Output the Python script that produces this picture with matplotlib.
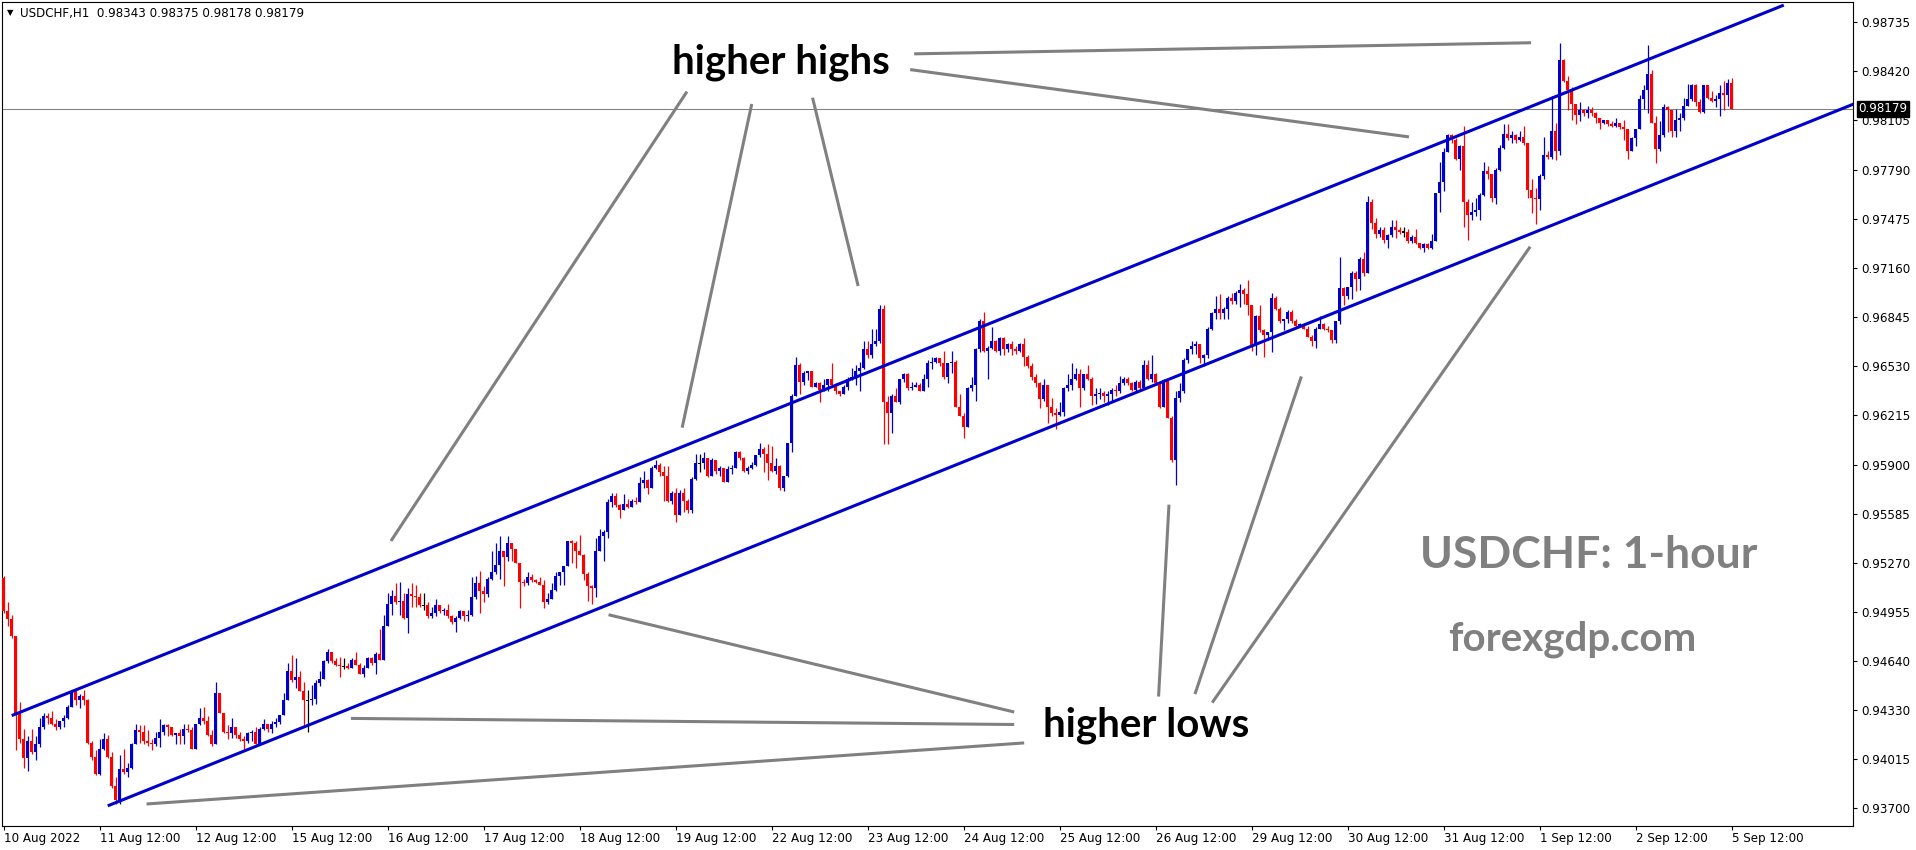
import numpy as np
import matplotlib
matplotlib.use('Agg')
import matplotlib.pyplot as plt

# USDCHF hourly candles, 10 Aug 2022 12:00 -> 5 Sep 2022 12:00
# prices are stored in pips above 0.9000 (e.g. 496 -> 0.9496)
symbol = 'USDCHF,H1'
first_open = 517.3

closes = [
    496, 491, 480, 431, 414, 402, 413, 406, 411, 422, 429, 428,
    424, 422, 426, 428, 435, 445, 439, 442, 439, 412, 403, 392,
    408, 414, 403, 384, 375, 395, 393, 396, 411, 420, 419, 413,
    412, 411, 415, 419, 423, 422, 417, 418, 416, 421, 420, 408,
    424, 428, 426, 417, 411, 444, 431, 419, 418, 422, 417, 414,
    413, 418, 419, 411, 421, 424, 421, 424, 425, 430, 439, 458,
    452, 454, 445, 439, 439, 440, 450, 453, 464, 470, 464, 462,
    461, 461, 460, 465, 462, 456, 460, 466, 463, 469, 465, 487,
    501, 506, 502, 503, 492, 507, 506, 505, 500, 500, 493, 495,
    500, 496, 497, 493, 489, 492, 496, 493, 494, 505, 514, 509,
    507, 517, 521, 526, 535, 531, 540, 536, 527, 515, 514, 518,
    516, 515, 513, 502, 504, 510, 519, 521, 525, 541, 540, 535,
    532, 520, 512, 511, 535, 544, 547, 566, 570, 564, 561, 565,
    563, 567, 566, 578, 580, 575, 588, 590, 585, 583, 567, 572,
    558, 572, 567, 561, 581, 591, 591, 594, 583, 593, 586, 588,
    579, 587, 588, 598, 594, 586, 588, 590, 596, 600, 597, 591,
    586, 589, 575, 583, 604, 634, 654, 643, 649, 650, 640, 642,
    638, 641, 645, 641, 637, 635, 640, 645, 646, 650, 652, 664,
    660, 667, 669, 690, 630, 623, 634, 630, 645, 648, 639, 640,
    641, 637, 645, 655, 656, 658, 655, 646, 655, 656, 627, 621,
    614, 639, 641, 664, 682, 663, 665, 669, 663, 671, 664, 667,
    664, 663, 667, 659, 653, 646, 642, 632, 641, 627, 623, 622,
    624, 639, 641, 645, 648, 639, 648, 645, 634, 635, 636, 634,
    635, 638, 637, 642, 645, 642, 638, 643, 639, 654, 645, 648,
    642, 627, 644, 620, 593, 633, 637, 657, 664, 666, 667, 658,
    660, 677, 687, 690, 687, 690, 697, 695, 700, 702, 699, 692,
    666, 685, 676, 673, 675, 697, 690, 682, 683, 688, 682, 679,
    680, 677, 672, 669, 677, 680, 677, 676, 670, 682, 703, 698,
    704, 713, 709, 722, 713, 758, 745, 738, 740, 734, 737, 742,
    740, 739, 739, 733, 736, 732, 729, 731, 729, 733, 764, 771,
    790, 801, 798, 786, 794, 758, 750, 752, 753, 763, 778, 776,
    761, 779, 793, 802, 799, 801, 798, 800, 796, 766, 761, 760,
    775, 788, 787, 804, 791, 849, 836, 830, 821, 814, 817, 815,
    817, 815, 812, 809, 811, 808, 807, 809, 806, 805, 791, 799,
    805, 824, 830, 840, 809, 792, 801, 819, 817, 804, 811, 812,
    820, 824, 833, 822, 816, 833, 825, 823, 824, 828, 827, 834.3,
    817.9,
]

highs = [
    519, 502, 494, 480, 438, 421, 416, 421, 416, 428, 431, 431,
    432, 427, 426, 430, 436, 445, 445, 443, 446, 440, 413, 407,
    414, 418, 417, 406, 390, 404, 408, 399, 412, 424, 423, 423,
    420, 414, 419, 427, 424, 424, 422, 418, 421, 424, 424, 422,
    424, 434, 435, 429, 420, 451, 444, 431, 423, 428, 421, 419,
    416, 419, 420, 422, 422, 427, 424, 426, 428, 430, 444, 463,
    468, 466, 458, 451, 446, 449, 452, 458, 465, 472, 470, 466,
    467, 466, 463, 466, 470, 463, 462, 467, 467, 470, 485, 494,
    508, 510, 514, 515, 508, 511, 514, 513, 508, 508, 502, 499,
    504, 500, 498, 501, 494, 493, 497, 496, 497, 518, 519, 522,
    512, 518, 535, 540, 544, 535, 544, 540, 536, 527, 517, 521,
    520, 517, 518, 516, 508, 514, 521, 521, 525, 541, 542, 541,
    545, 533, 521, 513, 543, 549, 548, 568, 572, 572, 565, 571,
    568, 568, 569, 582, 586, 581, 589, 593, 591, 589, 589, 573,
    575, 574, 575, 568, 582, 597, 597, 598, 594, 594, 593, 589,
    586, 589, 590, 599, 599, 595, 589, 592, 596, 604, 601, 603,
    602, 594, 590, 583, 604, 635, 659, 655, 650, 650, 650, 643,
    643, 645, 645, 655, 642, 637, 641, 646, 652, 654, 656, 669,
    669, 677, 677, 692, 692, 634, 635, 639, 645, 649, 649, 643,
    643, 642, 648, 657, 659, 659, 658, 663, 655, 663, 657, 635,
    623, 640, 646, 665, 683, 688, 666, 678, 670, 672, 672, 668,
    669, 666, 668, 671, 660, 655, 648, 643, 645, 640, 633, 626,
    630, 640, 648, 655, 652, 651, 648, 654, 646, 639, 639, 637,
    637, 639, 641, 647, 646, 646, 643, 644, 644, 657, 657, 660,
    649, 642, 645, 645, 621, 637, 642, 658, 664, 669, 669, 666,
    661, 678, 688, 698, 699, 691, 698, 700, 701, 706, 703, 708,
    692, 686, 692, 677, 675, 700, 698, 691, 683, 689, 689, 683,
    681, 681, 679, 673, 678, 685, 681, 679, 675, 682, 723, 704,
    704, 714, 714, 723, 726, 762, 760, 748, 742, 742, 738, 747,
    747, 742, 742, 741, 737, 741, 732, 732, 732, 738, 764, 784,
    793, 802, 802, 799, 795, 807, 760, 758, 761, 764, 784, 781,
    776, 780, 795, 808, 808, 804, 802, 804, 807, 796, 773, 767,
    776, 800, 791, 826, 809, 860, 850, 839, 832, 821, 822, 818,
    820, 819, 816, 812, 811, 811, 810, 812, 809, 811, 805, 800,
    805, 827, 833, 859, 843, 813, 810, 821, 820, 817, 818, 815,
    825, 834, 834, 834, 824, 833, 833, 829, 827, 833, 836, 837,
    837.5,
]

lows = [
    495, 487, 479, 407, 412, 396, 394, 405, 401, 409, 421, 424,
    423, 420, 421, 422, 427, 435, 436, 434, 436, 411, 401, 391,
    391, 407, 402, 383, 373, 373, 392, 390, 395, 411, 412, 411,
    410, 407, 410, 409, 417, 416, 416, 411, 411, 411, 419, 408,
    408, 423, 424, 416, 410, 411, 431, 418, 414, 415, 415, 413,
    408, 412, 413, 411, 411, 420, 419, 418, 422, 424, 430, 439,
    451, 447, 445, 423, 419, 436, 437, 448, 453, 463, 463, 461,
    454, 459, 459, 460, 462, 456, 454, 461, 462, 456, 465, 465,
    487, 494, 501, 494, 491, 482, 499, 499, 499, 497, 492, 492,
    493, 495, 494, 492, 488, 483, 491, 490, 490, 493, 504, 495,
    502, 505, 516, 520, 517, 512, 528, 528, 527, 498, 512, 513,
    515, 514, 513, 498, 501, 504, 509, 513, 513, 525, 527, 524,
    532, 516, 503, 501, 505, 535, 528, 543, 563, 563, 556, 561,
    562, 563, 565, 566, 575, 571, 575, 587, 583, 567, 566, 565,
    553, 558, 560, 559, 559, 580, 585, 587, 582, 583, 584, 583,
    579, 579, 584, 588, 593, 585, 584, 587, 589, 595, 585, 580,
    585, 584, 574, 573, 582, 598, 634, 635, 641, 644, 640, 640,
    630, 637, 637, 640, 635, 634, 635, 638, 644, 641, 637, 651,
    658, 658, 666, 668, 603, 603, 610, 630, 629, 643, 638, 638,
    640, 637, 637, 640, 651, 655, 653, 645, 642, 649, 627, 621,
    607, 615, 637, 631, 662, 662, 645, 664, 662, 660, 660, 662,
    660, 661, 662, 653, 652, 644, 640, 626, 631, 617, 621, 613,
    621, 621, 637, 638, 644, 627, 638, 644, 628, 629, 632, 630,
    628, 631, 634, 636, 641, 641, 637, 637, 638, 639, 644, 643,
    641, 626, 627, 620, 592, 577, 630, 636, 655, 661, 661, 655,
    653, 658, 676, 683, 683, 683, 683, 693, 693, 691, 693, 686,
    663, 660, 675, 659, 670, 662, 689, 681, 676, 681, 681, 678,
    678, 677, 672, 666, 665, 677, 676, 675, 668, 668, 680, 692,
    696, 696, 701, 702, 711, 713, 741, 735, 736, 732, 729, 736,
    735, 738, 736, 732, 732, 731, 728, 726, 728, 728, 733, 752,
    765, 790, 796, 785, 779, 742, 734, 747, 749, 747, 762, 773,
    758, 757, 778, 792, 798, 796, 796, 797, 795, 761, 751, 744,
    753, 773, 786, 786, 785, 788, 835, 817, 811, 808, 810, 813,
    812, 813, 809, 805, 808, 807, 806, 806, 805, 798, 786, 791,
    794, 805, 818, 815, 809, 783, 791, 800, 803, 800, 800, 804,
    811, 820, 823, 820, 815, 815, 824, 822, 819, 813, 817, 820,
    817.8,
]

date_labels = ['10 Aug 2022', '11 Aug 12:00', '12 Aug 12:00', '15 Aug 12:00',
               '16 Aug 12:00', '17 Aug 12:00', '18 Aug 12:00', '19 Aug 12:00',
               '22 Aug 12:00', '23 Aug 12:00', '24 Aug 12:00', '25 Aug 12:00',
               '26 Aug 12:00', '29 Aug 12:00', '30 Aug 12:00', '31 Aug 12:00',
               '1 Sep 12:00', '2 Sep 12:00', '5 Sep 12:00']
bars_per_label = 24

price_ticks = [0.93700, 0.94015, 0.94330, 0.94640, 0.94955, 0.95270, 0.95585,
               0.95900, 0.96215, 0.96530, 0.96845, 0.97160, 0.97475, 0.97790,
               0.98105, 0.98420, 0.98735]

# trend channel, (bar index, pips)
upper_channel = [(2, 429.3), (445, 884.3)]
lower_channel = [(26, 371.5), (462.5, 821.0)]

# pointer lines: bar0, pips0, bar1, pips1
high_pointers = [(227.6, 853.1, 381.8, 860.2),
                 (226.6, 843.0, 351.3, 799.9),
                 (170.8, 828.9, 96.8, 541.1),
                 (187.0, 821.0, 169.6, 613.7),
                 (202.2, 825.0, 213.6, 704.4)]
low_pointers = [(151.2, 493.9, 252.6, 431.6),
                (86.8, 427.5, 252.6, 423.6),
                (35.7, 372.7, 255.1, 411.8),
                (291.3, 564.4, 288.7, 441.5),
                (324.4, 646.5, 297.8, 443.1),
                (381.6, 729.6, 302.1, 437.6)]


def to_price(p):
    return 0.9 + np.asarray(p, dtype=float) / 10000.0


W, H = 1916, 850
fig = plt.figure(figsize=(W / 100, H / 100), dpi=100)
ax = fig.add_axes([2 / W, 1 - 826 / H, (1853 - 2) / W, (826 - 2) / H])

bull, bear, doji = '#0000cd', '#ff0000', '#000000'

c = to_price(closes)
o = np.concatenate([[to_price(first_open)], c[:-1]])
h = np.maximum(to_price(highs), np.maximum(o, c))
l = np.minimum(to_price(lows), np.minimum(o, c))
x = np.arange(len(c))
cols = np.where(c > o + 1e-9, bull, np.where(c < o - 1e-9, bear, doji))

# wicks and bodies
ax.vlines(x, l, h, colors=cols, linewidth=0.9, zorder=2)
body = np.abs(c - o)
shown = np.maximum(body, 0.00007)
bottom = np.minimum(o, c) - (shown - body) / 2
ax.bar(x, shown, width=0.8, bottom=bottom, color=cols, linewidth=0, zorder=3)

# last price line
last = c[-1]
ax.axhline(last, color='#808080', linewidth=0.75, zorder=1)

# channel
for line in (upper_channel, lower_channel):
    xs, ps = zip(*line)
    ax.plot(xs, to_price(ps), color='#0000cd', linewidth=2.2, zorder=4,
            solid_capstyle='butt')

# pointer lines
for seg in high_pointers + low_pointers:
    ax.plot([seg[0], seg[2]], to_price([seg[1], seg[3]]), color='#808080',
            linewidth=2.2, zorder=4, solid_capstyle='butt')

txt = dict(family='Lato', weight='bold', zorder=5, ha='left', va='baseline')
ax.text(167.1, to_price(840.6), 'higher highs', fontsize=29, color='black', **txt)
ax.text(259.7, to_price(415.6), 'higher lows', fontsize=29, color='black', **txt)
ax.text(354.1, to_price(523.8), 'USDCHF: 1-hour', fontsize=32, color='#808080', **txt)
ax.text(361.1, to_price(471.3), 'forexgdp.com', fontsize=29, color='#808080', **txt)

ax.set_xlim(-0.43, 462.3)
ax.set_ylim(to_price(358.6), to_price(886.3))

# axes styling
for s in ax.spines.values():
    s.set_color('black')
    s.set_linewidth(0.8)
ax.yaxis.tick_right()
ax.set_yticks(price_ticks)
ax.set_yticklabels([f'{v:.5f}' for v in price_ticks])
ax.set_xticks([i * bars_per_label for i in range(len(date_labels))])
ax.set_xticklabels(date_labels)
for lab in ax.get_xticklabels():
    lab.set_horizontalalignment('left')
ax.tick_params(axis='both', direction='out', length=3, width=0.8,
               labelsize=8.6, colors='black')
ax.tick_params(axis='x', pad=1.5)
ax.tick_params(axis='y', pad=3)

# last price tag on the axis
ax.annotate(f'{last:.5f}', xy=(1, last), xycoords=('axes fraction', 'data'),
            xytext=(4, 0), textcoords='offset points', ha='left', va='center',
            fontsize=8.6, color='white', zorder=6, annotation_clip=False,
            bbox=dict(boxstyle='square,pad=0.15', fc='black', ec='black'))

header = '{}  {:.5f} {:.5f} {:.5f} {:.5f}'.format(symbol, o[-1], h[-1], l[-1], c[-1])
fig.text(7 / W, 1 - 13 / H, '\u25bc', fontsize=6, va='center', ha='left')
fig.text(20 / W, 1 - 13 / H, header, fontsize=8.6, va='center', ha='left')

fig.savefig('out.png', dpi=100, facecolor='white')
